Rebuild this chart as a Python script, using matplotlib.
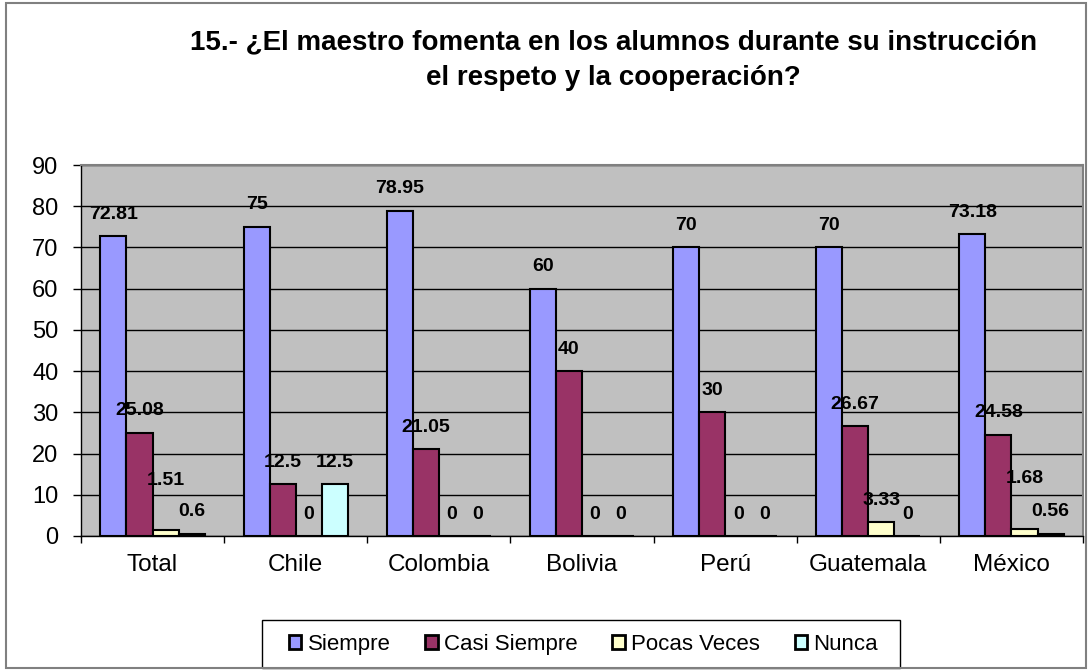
import matplotlib.pyplot as plt
import numpy as np
from matplotlib.patches import Rectangle

plt.rcParams['font.family'] = ['Liberation Sans', 'DejaVu Sans']

# ============================ DADOS ============================
paises = ["Total", "Chile", "Colombia", "Bolivia", "Perú", "Guatemala", "México"]
series = ["Siempre", "Casi Siempre", "Pocas Veces", "Nunca"]

siempre = [72.81, 75, 78.95, 60, 70, 70, 73.18]
casi_siempre = [25.08, 12.5, 21.05, 40, 30, 26.67, 24.58]
pocas_veces = [1.51, 0, 0, 0, 0, 3.33, 1.68]
nunca = [0.6, 12.5, 0, 0, 0, 0, 0.56]

valores = [siempre, casi_siempre, pocas_veces, nunca]
cores = ['#9999FF', '#993366', '#FFFFCC', '#CCFFFF']

# rótulos que no original foram deslocados para cima (pontos)
deslocamento = {("Pocas Veces", "Total"): 19.5, ("Pocas Veces", "México"): 21}

fig = plt.figure(figsize=(10.91, 6.70), dpi=100)
ax = fig.add_axes([0.0742, 0.2, 0.9185, 0.5537])
ax.set_facecolor('#C0C0C0')

x = np.arange(len(paises))
w = 0.182
for i, (vals, cor, nome) in enumerate(zip(valores, cores, series)):
    pos = x + (i - 1.5) * w
    ax.bar(pos, vals, w, color=cor, edgecolor='black', linewidth=1.5,
           label=nome, zorder=3)
    for xp, v, pais in zip(pos, vals, paises):
        dy = 12.5 + deslocamento.get((nome, pais), 0)
        ax.annotate(f'{v:g}', (xp, v), xytext=(0, dy), textcoords='offset points',
                    ha='center', va='baseline', fontsize=14, fontweight='bold',
                    zorder=4)

ax.set_xlim(-0.5, len(paises) - 0.5)
ax.set_ylim(0, 90)
ax.set_yticks(range(0, 91, 10))
ax.yaxis.grid(True, color='black', linewidth=1)
ax.set_axisbelow(True)

ax.set_xticks(x)
ax.set_xticklabels(paises, fontsize=17.5)
ax.set_xticks(np.arange(-0.5, len(paises)), minor=True)
ax.tick_params(axis='x', which='major', length=0, pad=13)
ax.tick_params(axis='x', which='minor', length=5, width=1, color='black')
ax.tick_params(axis='y', length=5.8, width=1, labelsize=17, pad=10.5)

for lado in ['top', 'right']:
    ax.spines[lado].set_color('#808080')
    ax.spines[lado].set_linewidth(1.5)
for lado in ['left', 'bottom']:
    ax.spines[lado].set_color('black')
    ax.spines[lado].set_linewidth(1)

fig.text(0.5625, 0.91, '15.- ¿El maestro fomenta en los alumnos durante su instrucción\n'
         'el respeto y la cooperación?', ha='center', va='center',
         fontsize=20, fontweight='bold', linespacing=1.5)

leg = fig.legend(loc='center', bbox_to_anchor=(0.535, 0.038), ncol=4,
                 fontsize=16, frameon=False,
                 handlelength=0.55, handleheight=0.55, handletextpad=0.3,
                 columnspacing=1.55, borderaxespad=0)
for h in leg.legend_handles:
    h.set_linewidth(2)

# moldura da legenda
fig.patches.append(Rectangle((0.2401, 0.003), 0.5848, 0.0716, transform=fig.transFigure,
                             fill=False, edgecolor='black', linewidth=1))
# moldura externa
fig.patches.append(Rectangle((0.0055, 0.003), 0.9895, 0.992, transform=fig.transFigure,
                             fill=False, edgecolor='#808080', linewidth=1.5))

fig.savefig('out.png', dpi=100)
